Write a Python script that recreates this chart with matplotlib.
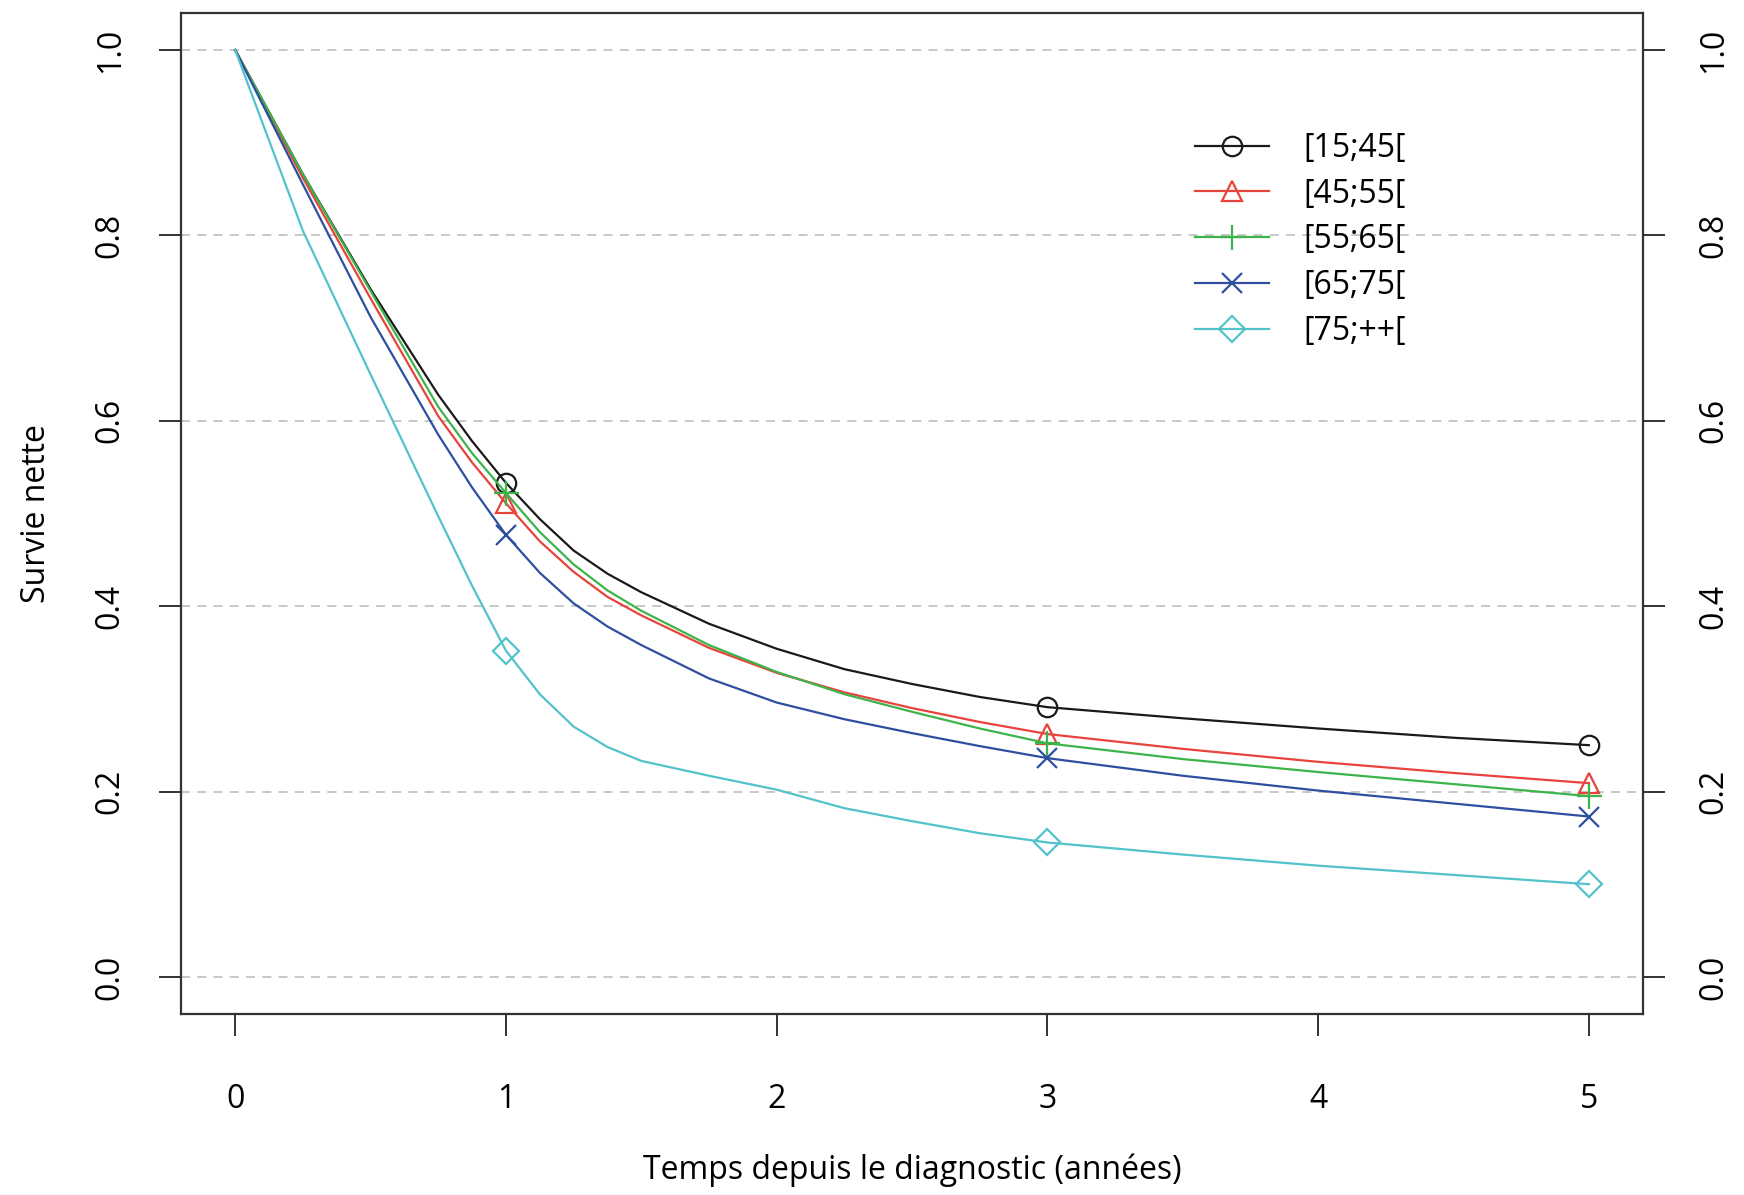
import matplotlib
matplotlib.use("Agg")
import matplotlib.pyplot as plt
from matplotlib.lines import Line2D

plt.rcParams['font.family'] = ['Open Sans', 'DejaVu Sans']

# temps depuis le diagnostic (années)
temps = [0, 0.25, 0.5, 0.75, 0.875, 1, 1.125, 1.25, 1.375, 1.5,
         1.75, 2, 2.25, 2.5, 2.75, 3, 3.5, 4, 4.5, 5]

# survie nette, par classe d'âge
s_15_45 = [1, 0.866, 0.742, 0.628, 0.578, 0.533, 0.494, 0.46, 0.435, 0.415,
           0.381, 0.354, 0.332, 0.316, 0.302, 0.291, 0.279, 0.268, 0.258, 0.25]
s_45_55 = [1, 0.862, 0.732, 0.605, 0.555, 0.511, 0.47, 0.437, 0.41, 0.39,
           0.355, 0.328, 0.307, 0.29, 0.275, 0.262, 0.246, 0.232, 0.22, 0.209]
s_55_65 = [1, 0.866, 0.74, 0.615, 0.565, 0.522, 0.48, 0.445, 0.417, 0.395,
           0.358, 0.329, 0.305, 0.286, 0.268, 0.252, 0.235, 0.221, 0.208, 0.195]
s_65_75 = [1, 0.855, 0.712, 0.585, 0.528, 0.477, 0.436, 0.403, 0.378, 0.358,
           0.322, 0.296, 0.278, 0.263, 0.249, 0.236, 0.217, 0.201, 0.187, 0.173]
s_75_pp = [1, 0.805, 0.65, 0.497, 0.422, 0.352, 0.305, 0.27, 0.248, 0.233,
           0.217, 0.202, 0.182, 0.168, 0.155, 0.145, 0.132, 0.12, 0.11, 0.10]

classes = ["[15;45[", "[45;55[", "[55;65[", "[65;75[", "[75;++["]
series = [s_15_45, s_45_55, s_55_65, s_65_75, s_75_pp]
colors = ["#1a1a1a", "#e8433c", "#3db44a", "#2e4fa0", "#52c2cb"]
markers = ["o", "^", "+", "x", "D"]
msizes = [14, 15, 18, 14, 13]
mark_at = [temps.index(1), temps.index(3), temps.index(5)]

fig = plt.figure(figsize=(17.44, 11.95), dpi=100)
ax = fig.add_axes([0.1038, 0.1515, 0.8383, 0.8377])

for y in [0, 0.2, 0.4, 0.6, 0.8, 1.0]:
    ax.axhline(y, color="#c4c4c4", lw=1.3, ls=(0, (5, 4)), zorder=0)

handles = []
for lab, ys, c, m, ms in zip(classes, series, colors, markers, msizes):
    ax.plot(temps, ys, color=c, lw=1.6, marker=m, ms=ms, mfc="none",
            mec=c, mew=1.6, markevery=mark_at)
    handles.append(Line2D([], [], color=c, lw=1.6, marker=m, ms=ms, mfc="none",
                          mec=c, mew=1.6))

ax.set_xlim(-0.2, 5.2)
ax.set_ylim(-0.04, 1.04)
ax.set_xticks([0, 1, 2, 3, 4, 5])
ax.set_yticks([0.0, 0.2, 0.4, 0.6, 0.8, 1.0])
ax.set_yticklabels(["0.0", "0.2", "0.4", "0.6", "0.8", "1.0"])

ax.tick_params(axis="both", direction="out", length=16, width=1.3, labelsize=23, color="#222222")
ax.tick_params(axis="x", pad=34)
ax.tick_params(axis="y", right=True, labelright=True, pad=23)
for t in ax.yaxis.get_major_ticks():
    t.label1.set_rotation(90)
    t.label1.set_va("center")
    t.label2.set_rotation(90)
    t.label2.set_va("center")

for sp in ax.spines.values():
    sp.set_linewidth(1.6)
    sp.set_color("#333333")

ax.set_xlabel("Temps depuis le diagnostic (années)", fontsize=23)
ax.set_ylabel("Survie nette", fontsize=23)
ax.xaxis.set_label_coords(0.5, -0.156)
ax.xaxis.label.set_va("center")
ax.yaxis.set_label_coords(-0.099, 0.5)
ax.yaxis.label.set_va("center")

ax.legend(handles, classes, loc="upper left", bbox_to_anchor=(0.674, 0.91),
          frameon=False, fontsize=23, handlelength=2.3, handletextpad=1.1,
          labelspacing=0.4, numpoints=1)

fig.savefig("out.png", dpi=100)
